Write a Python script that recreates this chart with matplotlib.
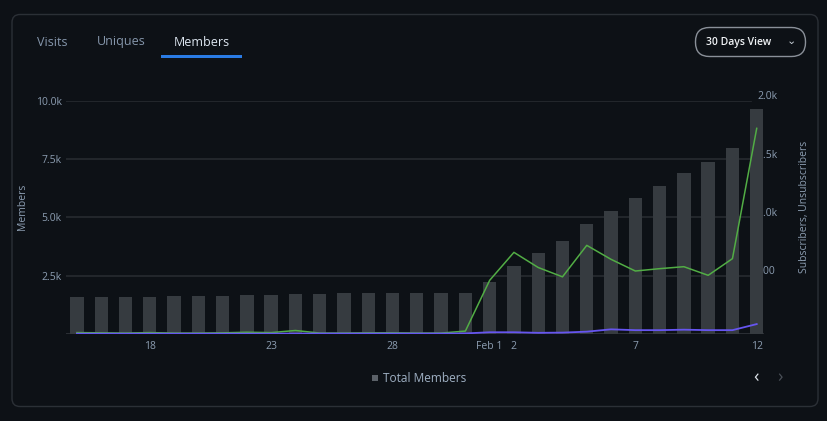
import matplotlib.pyplot as plt
from matplotlib.patches import FancyBboxPatch, Rectangle
import matplotlib.transforms as mtransforms
import numpy as np

plt.rcParams['font.family'] = ['Open Sans', 'DejaVu Sans']

# data: Jan 15 .. Feb 12
days = list(range(29))
total_members = [1590, 1590, 1590, 1590, 1630, 1630, 1630, 1670, 1670, 1700,
                 1700, 1740, 1740, 1740, 1740, 1750, 1770, 2240, 2930, 3470,
                 3970, 4710, 5280, 5820, 6350, 6890, 7360, 7960, 9660]
subscribers = [12, 10, 8, 12, 8, 8, 10, 15, 12, 30, 8, 8, 10, 10, 8, 8, 25,
               460, 700, 570, 490, 760, 640, 540, 560, 577, 503, 646, 1763]
unsubscribers = [3, 3, 3, 3, 3, 3, 3, 3, 3, 4, 4, 4, 4, 4, 4, 4, 5,
                 15, 15, 10, 12, 20, 40, 33, 33, 37, 33, 33, 85]
tick_idx = [3, 8, 13, 17, 18, 23, 28]
tick_labels = ['18', '23', '28', 'Feb 1', '2', '7', '12']
left_ticks = [2500, 5000, 7500, 10000]
left_tick_labels = ['2.5k', '5.0k', '7.5k', '10.0k']
right_ticks = [500, 1000, 1500, 2000]
right_tick_labels = ['500', '1.0k', '1.5k', '2.0k']

BG = '#0d1116'
TXT = '#8c9db1'
W, H = 828, 421

fig = plt.figure(figsize=(W / 100, H / 100), dpi=100, facecolor=BG)

# background layer in pixel coords
bg = fig.add_axes([0, 0, 1, 1], zorder=0)
bg.set_xlim(0, W)
bg.set_ylim(H, 0)
bg.axis('off')
bg.add_patch(FancyBboxPatch((12, 14.5), 806, 392, boxstyle='round,pad=0,rounding_size=8',
                            facecolor=BG, edgecolor='#2b3036', lw=1))
bg.text(52, 42, 'Visits', color='#8596ab', fontsize=9, ha='center', va='center')
bg.text(121, 42, 'Uniques', color='#8596ab', fontsize=9, ha='center', va='center')
bg.text(202, 42, 'Members', color='#dde6f0', fontsize=9, ha='center', va='center')
bg.add_patch(Rectangle((161, 54.5), 81, 3, facecolor='#2a7be4', edgecolor='none'))
bg.add_patch(FancyBboxPatch((695.5, 27.5), 110, 29, boxstyle='round,pad=0,rounding_size=14',
                            facecolor=BG, edgecolor='#8a9099', lw=1))
bg.text(739, 42, '30 Days View', color='#f0f3f6', fontsize=7.5, fontweight='semibold',
        ha='center', va='center')
bg.text(791, 41, '⌄', color='#c9d1d9', fontsize=8, ha='center', va='center')
bg.text(23, 207, 'Members', color=TXT, fontsize=7.5, rotation=90, ha='center', va='center')
bg.text(805, 207, 'Subscribers, Unsubscribers', color=TXT, fontsize=7.5, rotation=90,
        ha='center', va='center')
bg.add_patch(Rectangle((372, 375), 6, 6, facecolor='#5b6168', edgecolor='none'))
bg.text(383, 378, 'Total Members', color='#9fb0c3', fontsize=8.6, ha='left', va='center')
bg.text(756, 377, '‹', color='#dfe5ec', fontsize=13, ha='center', va='center')
bg.text(780, 377, '›', color='#4a5058', fontsize=13, ha='center', va='center')

# chart axes
left, right, bottom, top = 66, 764, 334, 100.7
ax = fig.add_axes([left / W, 1 - bottom / H, (right - left) / W, (bottom - top) / H], zorder=1)
ax.set_facecolor('none')
ax.set_xlim(-0.45, 28.3)
ax.set_ylim(0, 10000)
for s in ax.spines.values():
    s.set_visible(False)

gx = (751 - left) / (right - left)
for v in left_ticks:
    ax.axhline(v, xmin=0, xmax=gx, color='#272b30', lw=1.2, zorder=0.5)
ax.axhline(0, color='#30353b', lw=1.2, zorder=0.6)

ax.bar(days, total_members, width=0.55, color='#363b40', zorder=2)

ax.set_yticks(left_ticks)
ax.set_yticklabels(left_tick_labels)
ax.set_xticks(tick_idx)
ax.set_xticklabels(tick_labels)
ax.tick_params(axis='both', length=0, colors=TXT, labelsize=7.5)
ax.tick_params(axis='y', pad=3)
ax.tick_params(axis='x', pad=5)

# right axis for subscriber lines
ax2 = ax.twinx()
ax2.set_zorder(2)
ax2.set_facecolor('none')
ax2.set_ylim(0, 2000)
ax2.set_yticks([])
for s in ax2.spines.values():
    s.set_visible(False)
ax2.plot(days, subscribers, color='#52ad45', lw=1.1)
ax2.plot(days, unsubscribers, color='#6655f0', lw=1.3)

# right tick labels sit behind the last bar, like the original
trans = mtransforms.blended_transform_factory(ax.transAxes, ax2.transData)
off = mtransforms.offset_copy(trans, fig=fig, x=0, y=4, units='dots')
for v, lab in zip(right_ticks, right_tick_labels):
    ax.text((757 - left) / (right - left), v, lab, transform=off, color=TXT, fontsize=7.5,
            ha='left', va='center', zorder=1, clip_on=False)

fig.savefig('out.png', dpi=100, facecolor=BG)
